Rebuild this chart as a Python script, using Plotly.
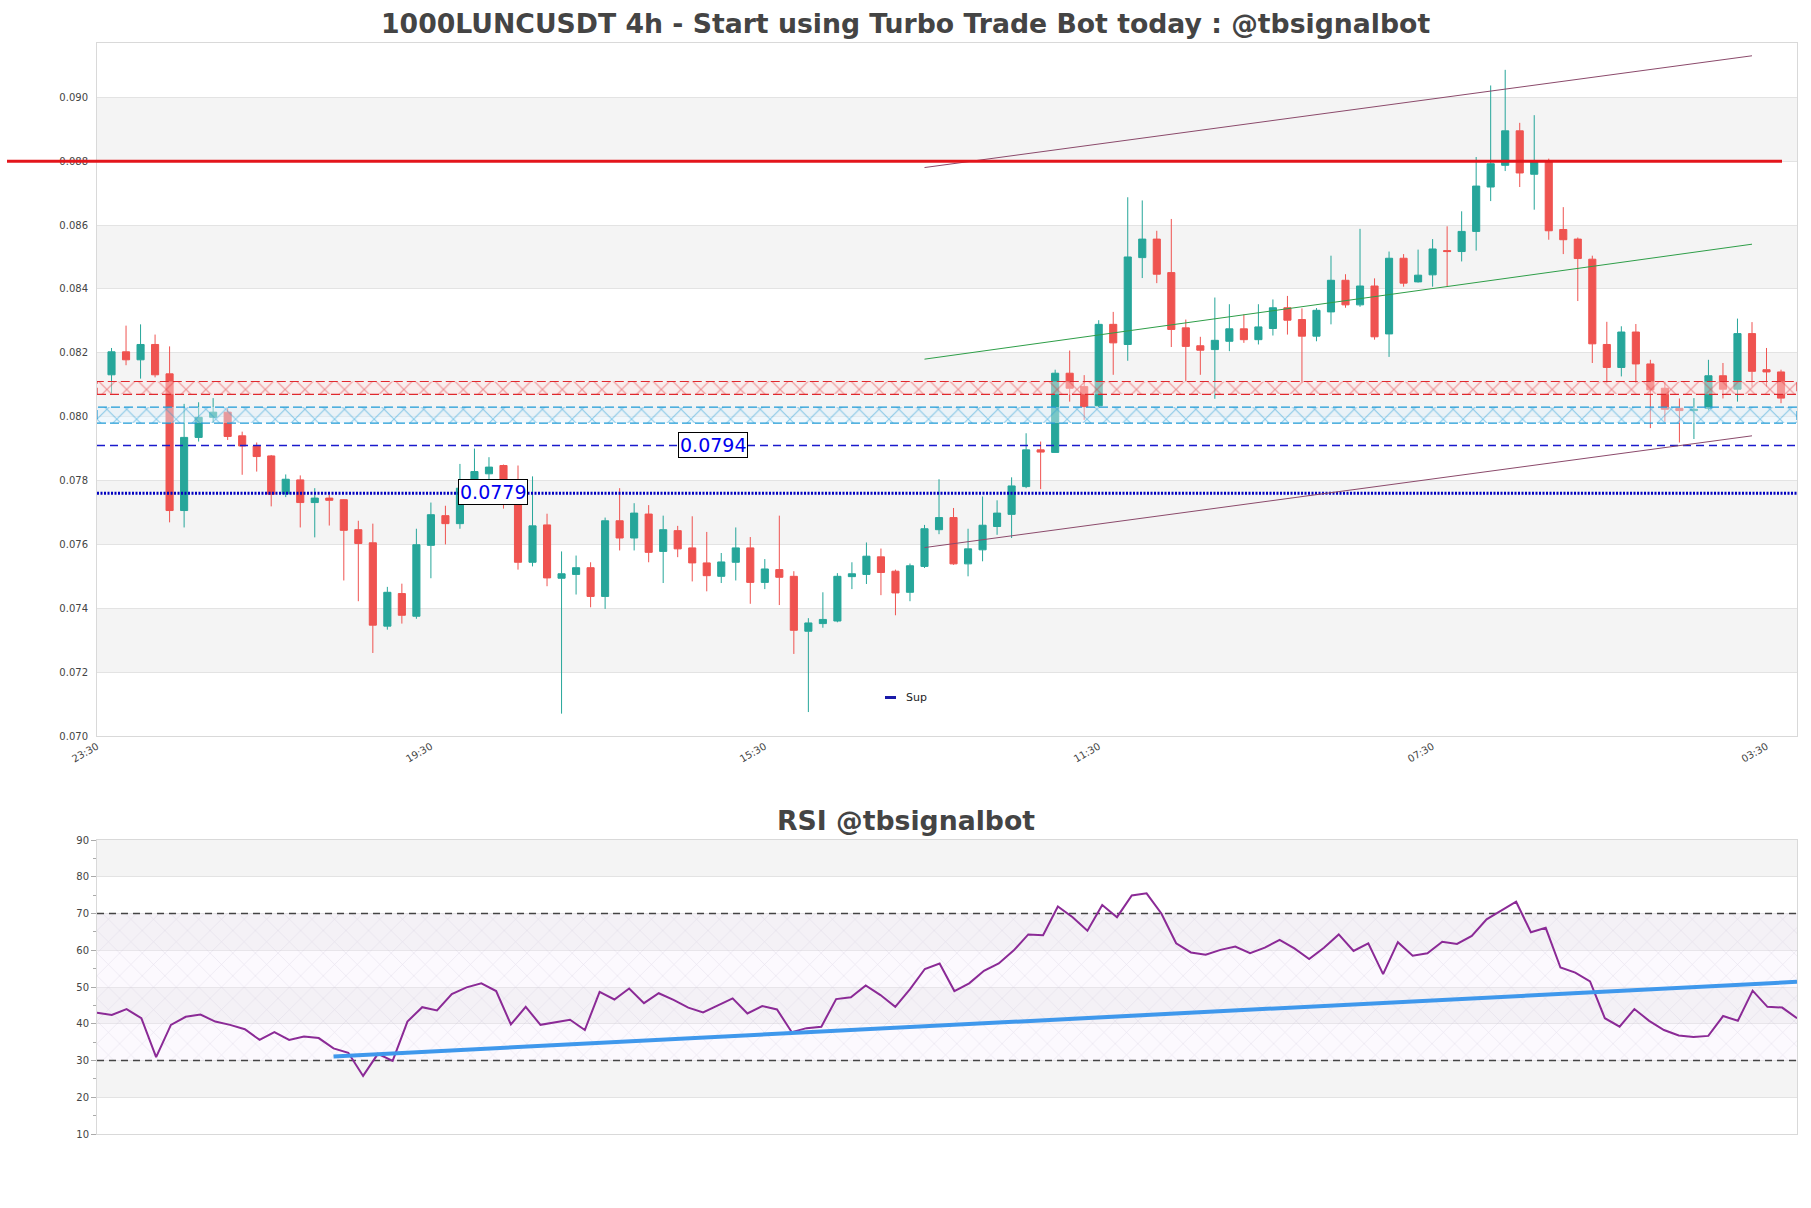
import plotly.graph_objects as go

# ---- price data (4h candles, index 1..116) ----
candle_idx = list(range(1, 117))

opens = [0.08131, 0.08203, 0.08178, 0.08226, 0.08134, 0.07706, 0.07935, 0.07998, 0.08014, 0.07940,
         0.07908, 0.07877, 0.07758, 0.07802, 0.07731, 0.07745, 0.07740, 0.07646, 0.07605, 0.07344,
         0.07446, 0.07375, 0.07597, 0.07690, 0.07665, 0.07776, 0.07821, 0.07847, 0.07760, 0.07544,
         0.07661, 0.07494, 0.07506, 0.07527, 0.07437, 0.07674, 0.07620, 0.07695, 0.07578, 0.07643,
         0.07589, 0.07542, 0.07500, 0.07544, 0.07589, 0.07481, 0.07521, 0.07500, 0.07328, 0.07352,
         0.07360, 0.07499, 0.07506, 0.07561, 0.07516, 0.07450, 0.07531, 0.07646, 0.07684, 0.07539,
         0.07583, 0.07656, 0.07694, 0.07781, 0.07896, 0.07888, 0.08136, 0.08094, 0.08034, 0.08289,
         0.08226, 0.08498, 0.08556, 0.08451, 0.08278, 0.08222, 0.08210, 0.08236, 0.08275, 0.08241,
         0.08276, 0.08341, 0.08304, 0.08252, 0.08328, 0.08427, 0.08350, 0.08409, 0.08259, 0.08496,
         0.08422, 0.08444, 0.08520, 0.08517, 0.08580, 0.08719, 0.08787, 0.08895, 0.08759, 0.08797,
         0.08586, 0.08556, 0.08493, 0.08226, 0.08154, 0.08265, 0.08165, 0.08089, 0.08026, 0.08019,
         0.08026, 0.08128, 0.08086, 0.08260, 0.08147, 0.08140]
highs = [0.08215, 0.08285, 0.08289, 0.08257, 0.08220, 0.08040, 0.08045, 0.08058, 0.08026, 0.07953,
         0.07919, 0.07880, 0.07819, 0.07816, 0.07776, 0.07755, 0.07742, 0.07674, 0.07665, 0.07467,
         0.07477, 0.07649, 0.07731, 0.07721, 0.07852, 0.07900, 0.07873, 0.07850, 0.07847, 0.07813,
         0.07696, 0.07578, 0.07565, 0.07544, 0.07684, 0.07776, 0.07729, 0.07723, 0.07690, 0.07658,
         0.07688, 0.07639, 0.07573, 0.07653, 0.07623, 0.07554, 0.07690, 0.07516, 0.07369, 0.07450,
         0.07510, 0.07544, 0.07606, 0.07587, 0.07521, 0.07540, 0.07661, 0.07804, 0.07714, 0.07649,
         0.07750, 0.07738, 0.07810, 0.07948, 0.07922, 0.08147, 0.08207, 0.08130, 0.08302, 0.08328,
         0.08687, 0.08677, 0.08582, 0.08619, 0.08304, 0.08250, 0.08373, 0.08352, 0.08320, 0.08352,
         0.08367, 0.08378, 0.08339, 0.08340, 0.08504, 0.08446, 0.08588, 0.08433, 0.08517, 0.08509,
         0.08523, 0.08556, 0.08596, 0.08643, 0.08813, 0.09037, 0.09086, 0.08920, 0.08944, 0.08808,
         0.08656, 0.08561, 0.08504, 0.08297, 0.08283, 0.08290, 0.08178, 0.08110, 0.08057, 0.08058,
         0.08178, 0.08168, 0.08307, 0.08296, 0.08215, 0.08147]
lows = [0.08073, 0.08161, 0.08119, 0.08123, 0.07669, 0.07653, 0.07922, 0.07981, 0.07927, 0.07818,
        0.07828, 0.07719, 0.07748, 0.07653, 0.07622, 0.07659, 0.07487, 0.07422, 0.07260, 0.07333,
        0.07352, 0.07367, 0.07494, 0.07600, 0.07649, 0.07770, 0.07800, 0.07712, 0.07521, 0.07531,
        0.07469, 0.07070, 0.07443, 0.07403, 0.07398, 0.07581, 0.07581, 0.07544, 0.07479, 0.07560,
        0.07484, 0.07453, 0.07479, 0.07487, 0.07414, 0.07460, 0.07410, 0.07257, 0.07075, 0.07339,
        0.07356, 0.07460, 0.07476, 0.07441, 0.07378, 0.07422, 0.07526, 0.07632, 0.07536, 0.07500,
        0.07547, 0.07630, 0.07620, 0.07776, 0.07773, 0.07888, 0.08047, 0.07990, 0.08030, 0.08131,
        0.08175, 0.08434, 0.08418, 0.08218, 0.08110, 0.08131, 0.08056, 0.08205, 0.08231, 0.08226,
        0.08254, 0.08257, 0.08107, 0.08236, 0.08289, 0.08341, 0.08344, 0.08241, 0.08187, 0.08407,
        0.08420, 0.08407, 0.08407, 0.08486, 0.08520, 0.08675, 0.08769, 0.08719, 0.08648, 0.08554,
        0.08509, 0.08362, 0.08168, 0.08105, 0.08126, 0.08105, 0.07964, 0.07984, 0.07919, 0.07930,
        0.08020, 0.08057, 0.08047, 0.08094, 0.08094, 0.08042]
closes = [0.08203, 0.08178, 0.08226, 0.08131, 0.07706, 0.07935, 0.07998, 0.08014, 0.07938, 0.07908,
          0.07875, 0.07757, 0.07804, 0.07731, 0.07745, 0.07738, 0.07644, 0.07603, 0.07347, 0.07450,
          0.07378, 0.07599, 0.07693, 0.07665, 0.07776, 0.07828, 0.07842, 0.07760, 0.07544, 0.07658,
          0.07495, 0.07508, 0.07527, 0.07437, 0.07674, 0.07620, 0.07698, 0.07575, 0.07646, 0.07586,
          0.07542, 0.07502, 0.07545, 0.07589, 0.07481, 0.07523, 0.07497, 0.07331, 0.07354, 0.07365,
          0.07500, 0.07508, 0.07563, 0.07512, 0.07448, 0.07533, 0.07649, 0.07684, 0.07539, 0.07586,
          0.07660, 0.07698, 0.07783, 0.07896, 0.07889, 0.08136, 0.08089, 0.08031, 0.08289, 0.08231,
          0.08500, 0.08556, 0.08446, 0.08273, 0.08220, 0.08208, 0.08239, 0.08275, 0.08241, 0.08281,
          0.08341, 0.08302, 0.08252, 0.08333, 0.08427, 0.08350, 0.08409, 0.08250, 0.08496, 0.08418,
          0.08443, 0.08525, 0.08517, 0.08580, 0.08722, 0.08792, 0.08895, 0.08763, 0.08797, 0.08582,
          0.08554, 0.08495, 0.08228, 0.08154, 0.08265, 0.08165, 0.08084, 0.08023, 0.08019, 0.08023,
          0.08128, 0.08086, 0.08260, 0.08142, 0.08140, 0.08058]

# ---- RSI values (one per candle) ----
rsi = [43.0, 42.4, 44.0, 41.5, 30.9, 39.7, 41.9, 42.5, 40.6, 39.7,
       38.5, 35.6, 37.7, 35.6, 36.5, 36.1, 33.3, 32.1, 25.8, 31.8,
       29.9, 40.6, 44.5, 43.6, 48.1, 49.9, 51.0, 48.9, 39.8, 44.6,
       39.7, 40.3, 41.1, 38.3, 48.7, 46.6, 49.6, 45.6, 48.3, 46.5,
       44.4, 43.1, 45.1, 46.9, 42.8, 44.8, 43.9, 37.7, 38.8, 39.2,
       46.7, 47.2, 50.4, 47.8, 44.6, 49.4, 54.9, 56.4, 48.9, 51.0,
       54.4, 56.4, 59.9, 64.3, 64.1, 71.9, 69.0, 65.3, 72.3, 69.0,
       74.9, 75.5, 70.0, 61.9, 59.4, 58.8, 60.1, 61.0, 59.2, 60.7,
       62.8, 60.5, 57.6, 60.7, 64.3, 59.8, 61.9, 53.5, 62.2, 58.5,
       59.2, 62.3, 61.7, 63.9, 68.4, 70.7, 73.2, 64.9, 66.1, 55.3,
       53.9, 51.5, 41.5, 39.2, 44.0, 40.8, 38.3, 36.8, 36.4, 36.7,
       42.1, 40.8, 49.0, 44.6, 44.4, 41.5]

# ---- levels / trend lines ----
resistance_level = 0.0880
dashed_level = 0.0791
dashed_label = "0.0794"
sup_level = 0.0776
sup_label = "0.0779"
red_zone = [0.0807, 0.0811]
blue_zone = [0.0798, 0.0803]
channel_x = [57, 114]
channel_upper = [0.0878, 0.0913]
channel_lower = [0.0759, 0.0794]
green_trend = [0.0818, 0.0854]
rsi_trend_x = [17, 116]
rsi_trend_y = [31.1, 51.4]

tick_pos = [0, 23, 46, 69, 92, 115]
tick_text = ["23:30", "19:30", "15:30", "11:30", "07:30", "03:30"]

X_RANGE = [0, 117.1]
Y_RANGE = [0.070, 0.0917]

FONT = "DejaVu Sans"
W, H = 1811, 1208

fig = go.Figure()

# hatched zones
for zone, col, bg in [(red_zone, "#e0282d", "rgba(255,228,228,0.45)"),
                      (blue_zone, "#1e9ad6", "rgba(222,241,252,0.45)")]:
    fig.add_trace(go.Scatter(
        x=[X_RANGE[0], X_RANGE[1], X_RANGE[1], X_RANGE[0], X_RANGE[0]],
        y=[zone[0], zone[0], zone[1], zone[1], zone[0]],
        mode="lines", fill="toself", fillcolor=bg,
        fillpattern=dict(shape="x", fgcolor=col, bgcolor=bg, size=14, solidity=0.14),
        line=dict(color=col, width=1.2, dash="9px,4px"),
        hoverinfo="skip", showlegend=False, xaxis="x", yaxis="y"))

# horizontal levels
fig.add_trace(go.Scatter(x=X_RANGE, y=[dashed_level] * 2, mode="lines",
                         line=dict(color="#1a1acc", width=1.5, dash="8px,5px"),
                         showlegend=False, hoverinfo="skip"))
fig.add_trace(go.Scatter(x=X_RANGE, y=[sup_level] * 2, mode="lines", name="Sup",
                         line=dict(color="#0000c0", width=3, dash="2px,1.5px"),
                         showlegend=False, hoverinfo="skip"))

# channel and trend lines
fig.add_trace(go.Scatter(x=channel_x, y=channel_upper, mode="lines",
                         line=dict(color="#8b4a6b", width=1), showlegend=False, hoverinfo="skip"))
fig.add_trace(go.Scatter(x=channel_x, y=channel_lower, mode="lines",
                         line=dict(color="#8b4a6b", width=1), showlegend=False, hoverinfo="skip"))
fig.add_trace(go.Scatter(x=channel_x, y=green_trend, mode="lines",
                         line=dict(color="#2e9e48", width=1), showlegend=False, hoverinfo="skip"))

# candles
fig.add_trace(go.Candlestick(
    x=candle_idx, open=opens, high=highs, low=lows, close=closes,
    increasing=dict(line=dict(color="#26a69a", width=1), fillcolor="#26a69a"),
    decreasing=dict(line=dict(color="#ef5350", width=1), fillcolor="#ef5350"),
    showlegend=False, xaxis="x", yaxis="y"))

# RSI panel
fig.add_trace(go.Scatter(
    x=[candle_idx[0], candle_idx[-1], candle_idx[-1], candle_idx[0], candle_idx[0]],
    y=[30, 30, 70, 70, 30], mode="lines", fill="toself",
    fillcolor="rgba(245,235,250,0.3)",
    fillpattern=dict(shape="x", fgcolor="rgba(175,160,195,0.55)",
                     bgcolor="rgba(248,238,252,0.3)", size=16, solidity=0.07),
    line=dict(width=0), hoverinfo="skip", showlegend=False, xaxis="x2", yaxis="y2"))
for lvl in [30, 70]:
    fig.add_trace(go.Scatter(x=[candle_idx[0], candle_idx[-1]], y=[lvl, lvl], mode="lines",
                             line=dict(color="#444", width=1.3, dash="7px,5px"),
                             hoverinfo="skip", showlegend=False, xaxis="x2", yaxis="y2"))
fig.add_trace(go.Scatter(x=candle_idx, y=rsi, mode="lines",
                         line=dict(color="#8b2a96", width=2),
                         showlegend=False, xaxis="x2", yaxis="y2"))
fig.add_trace(go.Scatter(x=rsi_trend_x, y=rsi_trend_y, mode="lines",
                         line=dict(color="#3f98ec", width=4),
                         showlegend=False, xaxis="x2", yaxis="y2"))

# alternating background bands
shapes = []
for lo in [0.072, 0.076, 0.080, 0.084, 0.088]:
    shapes.append(dict(type="rect", xref="x domain", yref="y", x0=0, x1=1, y0=lo, y1=lo + 0.002,
                       fillcolor="#f4f4f4", line=dict(width=0), layer="below"))
for lo in [20, 40, 60, 80]:
    shapes.append(dict(type="rect", xref="x2 domain", yref="y2", x0=0, x1=1, y0=lo, y1=lo + 10,
                       fillcolor="#f4f4f4", line=dict(width=0), layer="below"))
# thick resistance line (extends past the left edge of the plot)
shapes.append(dict(type="line", xref="paper", yref="y", x0=7 / W, x1=1782 / W,
                   y0=resistance_level, y1=resistance_level,
                   line=dict(color="#e3151b", width=3)))
# legend glyph
shapes.append(dict(type="line", xref="paper", yref="paper", x0=885 / W, x1=896 / W,
                   y0=1 - 697.5 / H, y1=1 - 697.5 / H, line=dict(color="#1a1aa8", width=3)))

annotations = [
    dict(text="<b>1000LUNCUSDT 4h - Start using Turbo Trade Bot today : @tbsignalbot</b>",
         x=0.5, y=1 - 23 / H, xref="paper", yref="paper", showarrow=False,
         xanchor="center", yanchor="middle", font=dict(family=FONT, size=26.7, color="#444")),
    dict(text="<b>RSI @tbsignalbot</b>", x=0.5, y=1 - 820 / H, xref="paper", yref="paper",
         showarrow=False, xanchor="center", yanchor="middle",
         font=dict(family=FONT, size=26.7, color="#444")),
    dict(text=dashed_label, x=42.4, y=dashed_level, xref="x", yref="y", showarrow=False,
         font=dict(family=FONT, size=19, color="#0000ee"), bgcolor="white",
         bordercolor="black", borderwidth=1, borderpad=1),
    dict(text=sup_label, x=27.3, y=sup_level + 0.00005, xref="x", yref="y", showarrow=False,
         font=dict(family=FONT, size=19, color="#0000ee"), bgcolor="white",
         bordercolor="black", borderwidth=1, borderpad=1),
    dict(text="Sup", x=904 / W, y=1 - 697.5 / H, xref="paper", yref="paper", showarrow=False,
         xanchor="left", yanchor="middle", font=dict(family=FONT, size=11, color="#222")),
]

axis_line = "#d9d9d9"
fig.update_layout(
    width=W, height=H,
    margin=dict(l=0, r=0, t=0, b=0, autoexpand=False),
    paper_bgcolor="white", plot_bgcolor="white",
    font=dict(family=FONT, size=10, color="#444"),
    showlegend=False,
    shapes=shapes, annotations=annotations,
    xaxis=dict(domain=[97 / W, 1797 / W], range=X_RANGE, anchor="y", automargin=False,
               tickmode="array", tickvals=tick_pos, ticktext=tick_text, tickangle=-30,
               showgrid=False, zeroline=False, showline=True, mirror=True, linecolor=axis_line,
               rangeslider=dict(visible=False), ticks="", tickfont=dict(size=10, color="#444")),
    yaxis=dict(domain=[1 - 736 / H, 1 - 43 / H], range=Y_RANGE, anchor="x", automargin=False,
               tickmode="array", tickvals=[0.070 + 0.002 * k for k in range(11)],
               tickformat=".3f", showgrid=True, gridcolor="#e3e3e3", zeroline=False,
               showline=True, mirror=True, linecolor=axis_line,
               ticks="outside", ticklen=6, tickcolor="rgba(0,0,0,0)",
               tickfont=dict(size=10, color="#444")),
    xaxis2=dict(domain=[97 / W, 1797 / W], range=[candle_idx[0], candle_idx[-1]], anchor="y2",
                automargin=False, showticklabels=False, showgrid=False, zeroline=False,
                showline=True, mirror=True, linecolor=axis_line),
    yaxis2=dict(domain=[1 - 1134 / H, 1 - 840 / H], range=[10, 90], anchor="x2", automargin=False,
                tickmode="array", tickvals=list(range(10, 91, 10)),
                showgrid=True, gridcolor="#e3e3e3", zeroline=False,
                showline=True, mirror=True, linecolor=axis_line,
                ticks="outside", ticklen=5, tickcolor="#aaa",
                minor=dict(ticks="outside", ticklen=3, tickcolor="#aaa", dtick=5, tick0=5, showgrid=False),
                tickfont=dict(size=10, color="#444")),
)

fig.write_html("out.html", config={"displayModeBar": False},
               post_script="document.body.style.margin='0';document.body.style.overflow='hidden';")
